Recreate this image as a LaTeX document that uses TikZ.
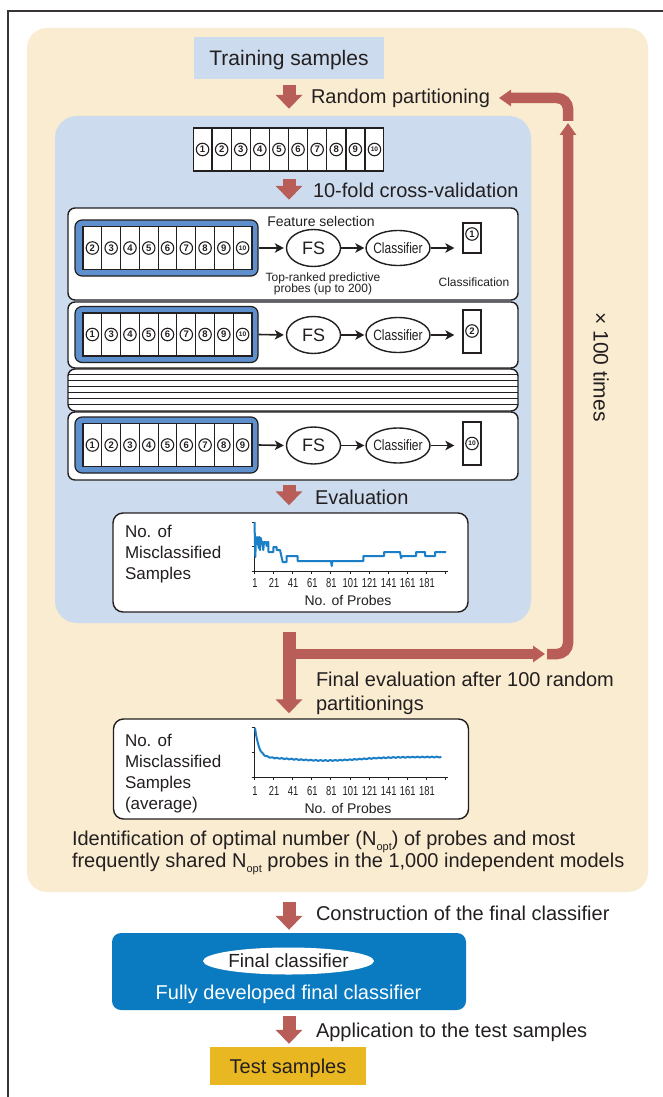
\documentclass[tikz,border=0pt]{standalone}
\usepackage{fontspec}
\setmainfont{Liberation Sans}
\usetikzlibrary{arrows.meta,shapes.geometric}

\definecolor{cream}{HTML}{F9ECD0}
\definecolor{paleblue}{HTML}{CCDCEE}
\definecolor{brick}{HTML}{B85D57}
\definecolor{ink}{HTML}{231F20}
\definecolor{foldblue}{HTML}{5D90CC}
\definecolor{plotblue}{HTML}{1B7FC7}
\definecolor{finalblue}{HTML}{0A7BC1}
\definecolor{gold}{HTML}{E8B722}

\newcommand{\fs}[1]{\fontsize{#1}{#1}\selectfont}
\newcommand{\cnfont}[1]{\bfseries\ifnum#1>9 \fs{6.6}\else\fs{9.5}\fi}
\newcommand{\lowsub}[1]{\raisebox{-4.5pt}{\fs{11}#1}}

\tikzset{
  txt/.style={text=ink, inner sep=0pt, outer sep=0pt},
  lab/.style={txt, font=\fs{20}, anchor=base west},
  bigarrow/.style={draw=brick, line width=13pt, -{Triangle[width=26pt,length=14pt]}},
  looparrow/.style={draw=brick, line width=10.5pt, -{Triangle[width=16pt,length=12pt]}},
  panel/.style={rectangle, draw=ink, line width=1.4pt, fill=white, rounded corners=7pt,
    minimum width=450pt, inner sep=0pt},
  chartbox/.style={rectangle, draw=ink, line width=1.4pt, fill=white, rounded corners=10pt,
    minimum width=355pt, inner sep=0pt},
  foldframe/.style={rectangle, draw=ink, line width=1.2pt, fill=foldblue, rounded corners=7pt,
    minimum width=183pt, minimum height=56pt, inner sep=0pt},
  cell/.style={rectangle, draw=ink, line width=1.1pt, fill=white, minimum width=18.8pt, inner sep=0pt},
  cnum/.style={circle, draw=ink, line width=1.1pt, minimum size=12.5pt, inner sep=0pt, text=ink},
  resbox/.style={rectangle, draw=ink, line width=1.3pt, fill=white, minimum width=18pt, inner sep=0pt},
  fsell/.style={ellipse, draw=ink, line width=1.4pt, fill=white, minimum width=54pt,
    minimum height=37pt, inner sep=0pt},
  clell/.style={ellipse, draw=ink, line width=1.4pt, fill=white, minimum width=64pt,
    minimum height=35pt, inner sep=0pt},
  flow/.style={draw=ink, line width=1.6pt, -{Stealth[length=9pt,width=9.5pt,inset=2.5pt]}},
  axis/.style={draw=ink, line width=1pt},
  chlab/.style={txt, font=\fs{17}, anchor=base west},
  ticklab/.style={txt, font=\fs{13}, anchor=base},
}

% one row of folds inside a blue frame: name, centre y, list of fold numbers
\newcommand{\foldrow}[3]{%
  \node[foldframe] (#1f) at (166.5,#2) {};
  \foreach \val [count=\idx] in {#3} {%
    \node[cell, minimum height=43pt] (#1c\idx) at ({83+18.78*(\idx-0.5)},#2) {};
    \node[cnum, font=\cnfont{\val}] (#1n\idx) at (#1c\idx) {\val};
  }%
}

% FS -> classifier -> held-out fold for one row
\newcommand{\cvstep}[4]{%
  \node[fsell] (#1fs) at (313.5,#2) {};
  \node[txt, font=\fs{18}, text height=12.9pt, text depth=0pt] (#1fst) at (#1fs) {FS};
  \node[clell] (#1cl) at (398,#2) {};
  \node[txt, font=\fs{15}, text height=10.7pt, text depth=0pt] (#1clt) at (#1cl) {\scalebox{0.8}[1]{Classifier}};
  \node[resbox, minimum height=#4pt] (#1r) at (472,#3) {};
  \draw[flow, shorten >=2pt] (#1f.east) -- (#1fs.west);
  \draw[flow, shorten >=1pt] (#1fs.east) -- (#1cl.west);
  \draw[flow, shorten >=8pt] (#1cl.east) -- (#1r.west |- #1cl.east);
}

\begin{document}
\begin{tikzpicture}[x=1pt,y=-1pt]
\useasboundingbox (0,0) rectangle (663,1097);
\fill[white] (0,0) rectangle (663,1097);
\draw[ink!90, line width=1.3pt] (8,1097) -- (8,11) -- (663,11);

% outer repeated procedure
\node[rectangle, fill=cream, rounded corners=20pt, minimum width=621pt, minimum height=864pt,
  inner sep=0pt] (outer) at (337.5,460) {};

\node[rectangle, fill=paleblue, minimum width=190pt, minimum height=42pt, inner sep=0pt,
  font=\fs{21}, text=ink, text height=15pt, text depth=0pt] (train) at (289,58) {Training samples};

\node[lab] (rp) at (311,103.5) {Random partitioning};

% cross-validation block
\node[rectangle, fill=paleblue, rounded corners=22pt, minimum width=476pt, minimum height=507pt,
  inner sep=0pt] (cv) at (293,369.5) {};

\draw[bigarrow, shorten <=6pt, shorten >=7pt] (train.south) -- (train.south |- cv.north);

\foreach \i in {1,...,10} {
  \node[cell, minimum height=43pt] (top\i) at ({193+19.1*(\i-0.5)},149.5) {};
  \node[cnum, font=\cnfont{\i}] (topn\i) at (top\i) {\i};
}

\node[lab] (tenfold) at (313,197) {10-fold cross-validation};

\node[panel, minimum height=92pt] (p1) at (293,254) {};
\node[panel, minimum height=66pt] (p2) at (293,335) {};
\node[panel, minimum height=42pt] (more) at (293,390) {};
\node[panel, minimum height=68pt] (p3) at (293,446) {};
\foreach \y in {374.5,380.5,386.5,392.5,398.5,404.5}
  \draw[ink, line width=1pt] (68,\y) -- (518,\y);

\draw[bigarrow, shorten <=7pt, shorten >=7.5pt] (train.south |- top5.south) -- (train.south |- p1.north);

\foldrow{a}{248}{2,3,4,5,6,7,8,9,10}
\foldrow{b}{334.5}{1,3,4,5,6,7,8,9,10}
\foldrow{c}{445}{1,2,3,4,5,6,7,8,9}

\cvstep{a}{248}{238}{30}
\cvstep{b}{335}{331.5}{43}
\cvstep{c}{445.5}{443.5}{43}

\node[cnum, font=\cnfont{1}] (ar1) at (472,234) {1};
\node[cnum, font=\cnfont{2}] (br2) at (472,331) {2};
\node[cnum, font=\cnfont{10}] (cr10) at (472,443.5) {10};

\node[txt, font=\fs{14}, anchor=base] (fsel) at (321,226) {Feature selection};
\node[txt, font=\fs{12}, anchor=base] (top1) at (323,281.5) {Top-ranked predictive};
\node[txt, font=\fs{12}, anchor=base] (top2) at (323,292) {probes (up to 200)};
\node[txt, font=\fs{12}, anchor=base] (clsf) at (474,286.5) {Classification};

% evaluation of one partitioning
\node[chartbox, minimum height=99pt] (ch1) at (290.5,562.5) {};
\draw[bigarrow, shorten <=4pt, shorten >=7pt] (train.south |- p3.south) -- (train.south |- ch1.north);
\node[lab] (eval) at (315,504) {Evaluation};

\node[chlab] (c1a) at (125,537.3) {No. of};
\node[chlab] (c1b) at (125,558.3) {Misclassified};
\node[chlab] (c1c) at (125,579) {Samples};

\draw[axis] (254.5,522) -- (254.5,571) -- (448,571);
\foreach \y in {522,546.5,571} \draw[axis] (251.5,\y) -- (254.5,\y);
\foreach \k in {0,...,10} \draw[axis] ({254.5+19.1*\k},571) -- ({254.5+19.1*\k},574);
\foreach \k in {0,...,9} {
  \pgfmathtruncatemacro\tv{1+20*\k}
  \node[ticklab] (c1t\k) at ({255+19.1*\k},587.7) {\scalebox{0.72}[1]{\tv}};
}
\node[txt, font=\fs{14}, anchor=base] (c1x) at (348,605) {No. of Probes};

\draw[plotblue, line width=2pt, line join=round]
  (254.5,522) -- (255.3,557) -- (256,537) -- (257,544) -- (257.8,537) -- (258.6,548)
  -- (259.3,537) -- (260,550) -- (260.8,538) -- (261.7,542) -- (262.5,542) -- (263.3,550)
  -- (264,542) -- (266,542) -- (266.6,546) -- (267.3,542) -- (268.3,542) -- (268.3,552)
  -- (273.3,552) -- (273.3,547) -- (276.7,547) -- (276.7,550) -- (280,550) -- (282.7,562)
  -- (286.7,562) -- (286.7,556) -- (297.7,556) -- (297.7,561) -- (331,561) -- (331.7,566)
  -- (332.4,561) -- (363.3,561) -- (363.3,556) -- (384,556) -- (384,552) -- (400,552)
  -- (401,558) -- (402,556) -- (416,556) -- (416,552) -- (425,552) -- (425,556)
  -- (435,556) -- (435,552) -- (446,552);

% repetition loop
\coordinate (fork) at (289,654);
\coordinate (retA) at (545,654);
\coordinate (retB) at (547,654);
\coordinate (loopB) at (568,654);
\coordinate (retC) at (568,123);
\coordinate (retD) at (568,121);
\coordinate (loopT) at (568,98);
\coordinate (retE) at (499,98);
\draw[looparrow] (fork) -- (retA);
\draw[looparrow, rounded corners=11pt] (retB) -- (loopB) -- (retC);
\draw[looparrow, rounded corners=11pt] (retD) -- (loopT) -- (retE);
\node[txt, font=\fs{21}, rotate=-90] (times) at (601,367) {× 100 times};

% final evaluation
\node[chartbox, minimum height=100pt] (ch2) at (291,769) {};
\draw[bigarrow, shorten <=9pt, shorten >=5pt] (train.south |- cv.south) -- (train.south |- ch2.north);
\node[lab] (fin1) at (316,686) {Final evaluation after 100 random};
\node[lab] (fin2) at (316,710) {partitionings};

\node[chlab] (c2a) at (125,746) {No. of};
\node[chlab] (c2b) at (125,767) {Misclassified};
\node[chlab] (c2c) at (125,788) {Samples};
\node[chlab] (c2d) at (125,809) {(average)};

\draw[axis] (254.5,727) -- (254.5,777) -- (448,777);
\foreach \y in {727,752,777} \draw[axis] (251.5,\y) -- (254.5,\y);
\foreach \k in {0,...,10} \draw[axis] ({254.5+19.1*\k},777) -- ({254.5+19.1*\k},780);
\foreach \k in {0,...,9} {
  \pgfmathtruncatemacro\tv{1+20*\k}
  \node[ticklab] (c2t\k) at ({255+19.1*\k},795) {\scalebox{0.72}[1]{\tv}};
}
\node[txt, font=\fs{14}, anchor=base] (c2x) at (348,813) {No. of Probes};

\draw[plotblue, line width=2pt, line join=round]
  plot[domain=1:196, samples=160]
  ({255+(\x-1)*0.955}, {757-30*exp(-min((\x-1)/4,12))+3.5*exp(-((\x-75)/50)^2)+0.45*sin(\x*71)});

\node[lab] (id1) at (72,845.5) {Identification of optimal number (N\lowsub{opt}) of probes and most};
\node[lab] (id2) at (72,867.5) {frequently shared N\lowsub{opt} probes in the 1,000 independent models};

% final classifier and test
\node[rectangle, fill=finalblue, rounded corners=9pt, minimum width=354pt, minimum height=77pt,
  inner sep=0pt] (final) at (289,971.5) {};
\draw[bigarrow, shorten <=10pt, shorten >=3pt] (train.south |- outer.south) -- (train.south |- final.north);
\node[lab] (constr) at (316,920) {Construction of the final classifier};

\node[ellipse, fill=white, minimum width=171pt, minimum height=27pt, inner sep=0pt] (fcell) at (288.5,961) {};
\node[txt, font=\fs{19}, text height=13.6pt, text depth=0pt] (fctext) at (fcell) {Final classifier};
\node[txt, text=white, font=\fs{20}, anchor=base] (fully) at (288.5,999) {Fully developed final classifier};

\node[rectangle, fill=gold, minimum width=156pt, minimum height=38pt, inner sep=0pt,
  font=\fs{20}, text=ink, text height=14.3pt, text depth=0pt] (test) at (288,1066) {Test samples};
\draw[bigarrow, shorten <=6pt, shorten >=3pt] (train.south |- final.south) -- (train.south |- test.north);
\node[lab] (appl) at (316,1037) {Application to the test samples};
\end{tikzpicture}
\end{document}
